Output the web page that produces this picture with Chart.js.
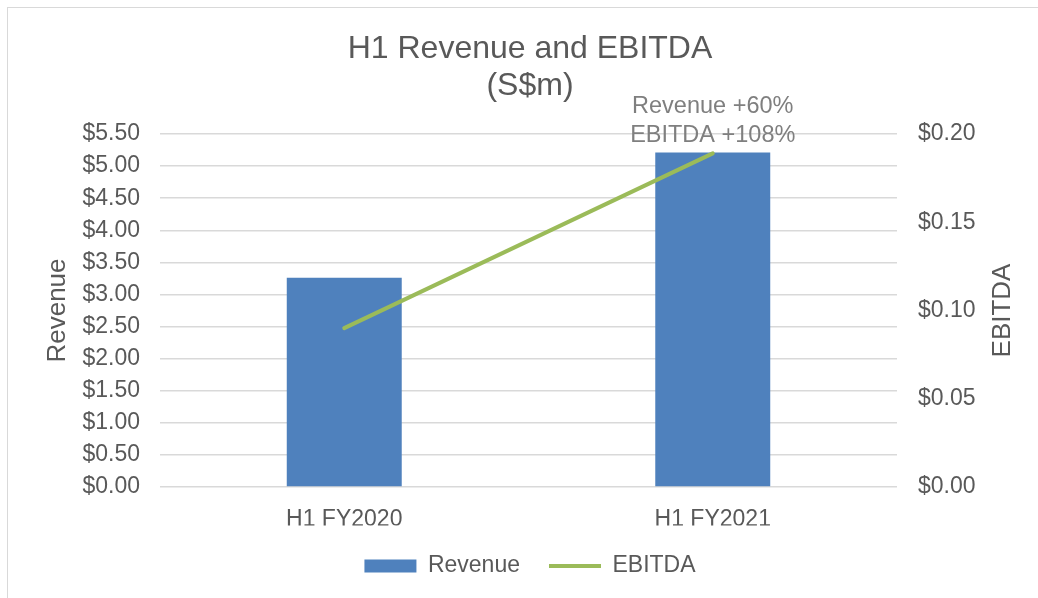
<!DOCTYPE html>
<html>
<head>
<meta charset="utf-8">
<script src="https://cdn.jsdelivr.net/npm/chart.js@4.4.1/dist/chart.umd.min.js"></script>
<style>
  html, body { margin: 0; padding: 0; background: #fff; overflow: hidden; }
  #wrap { position: relative; width: 1038px; height: 598px; overflow: hidden; }
  #frame { position: absolute; left: 7px; top: 7px; width: 1100px; height: 700px; border: 1.5px solid #d9d9d9; box-sizing: border-box; }
  #c { position: absolute; left: 0; top: 0; }
</style>
</head>
<body>
<div id="wrap">
  <div id="frame"></div>
  <!-- the chart frame runs a little past the right edge of the shot, so the canvas does too -->
  <canvas id="c" width="1060" height="598"></canvas>
</div>
<script>
// Values (S$m)
const categories = ["H1 FY2020", "H1 FY2021"];
const revenue = [3.26, 5.21];
const ebitda = [0.09, 0.189];
const growthNotes = ["Revenue +60%", "EBITDA +108%"];
const titleLines = ["H1 Revenue and EBITDA", "(S$m)"];

const FONT = "'Liberation Sans', Arial, sans-serif";
const TEXT = "#595959";
const GRID = "#d9d9d9";
const BLUE = "#4f81bd";
const GREEN = "#9bbb59";

const money = (v) => "$" + Number(v).toFixed(2);

// Growth note sits above the last EBITDA point; right axis title reads bottom-up like Excel.
const extras = {
  id: "extras",
  afterDatasetsDraw(chart) {
    const ctx = chart.ctx;
    const meta = chart.getDatasetMeta(1);
    const pt = meta.data[meta.data.length - 1];
    ctx.save();
    ctx.font = "23.5px " + FONT;
    ctx.fillStyle = "#7f7f7f";
    ctx.textAlign = "center";
    ctx.textBaseline = "middle";
    ctx.fillText(growthNotes[0], pt.x, pt.y - 47);
    ctx.fillText(growthNotes[1], pt.x, pt.y - 18);
    ctx.restore();
  },
  afterDraw(chart) {
    const ctx = chart.ctx;
    const y1 = chart.scales.y1;
    ctx.save();
    ctx.translate(1003, (y1.top + y1.bottom) / 2);
    ctx.rotate(-Math.PI / 2);
    ctx.font = "26px " + FONT;
    ctx.fillStyle = TEXT;
    ctx.textAlign = "center";
    ctx.textBaseline = "middle";
    ctx.fillText("EBITDA", 0, 0);
    ctx.restore();
  },
};

new Chart(document.getElementById("c"), {
  data: {
    labels: categories,
    datasets: [
      {
        type: "bar",
        label: "Revenue",
        data: revenue,
        yAxisID: "y",
        backgroundColor: BLUE,
        borderWidth: 0,
        categoryPercentage: 1,
        barPercentage: 0.312,
        order: 1,
      },
      {
        type: "line",
        label: "EBITDA",
        data: ebitda,
        yAxisID: "y1",
        borderColor: GREEN,
        borderWidth: 4,
        borderCapStyle: "round",
        tension: 0,
        pointRadius: 0,
        order: 0,
      },
    ],
  },
  options: {
    responsive: false,
    animation: false,
    layout: { padding: { left: 0, right: 0, top: 0, bottom: 10.5 } },
    scales: {
      x: {
        grid: { display: false },
        border: { display: false },
        ticks: { color: TEXT, font: { family: FONT, size: 23 }, padding: 11 },
        afterFit: (s) => { s.height = 38.5; },
      },
      y: {
        position: "left",
        min: 0,
        max: 5.5,
        grid: { color: GRID, lineWidth: 1.5, drawTicks: false },
        border: { display: false },
        ticks: { stepSize: 0.5, color: TEXT, font: { family: FONT, size: 23 }, padding: 20, callback: money },
        title: { display: true, text: "Revenue", color: TEXT, font: { family: FONT, size: 26 }, padding: { top: 42, bottom: 0 } },
        afterFit: (s) => { s.width = 160; },
      },
      y1: {
        position: "right",
        min: 0,
        max: 0.2,
        grid: { display: false, drawTicks: false },
        border: { display: false },
        ticks: { stepSize: 0.05, color: TEXT, font: { family: FONT, size: 23 }, padding: 21, callback: money },
        afterFit: (s) => { s.width = 163; },
      },
    },
    plugins: {
      title: {
        display: true,
        text: titleLines,
        color: TEXT,
        font: { family: FONT, size: 32, weight: "normal", lineHeight: 1.15 },
        padding: { top: 31, bottom: 29.4 },
      },
      legend: {
        position: "bottom",
        labels: {
          color: TEXT,
          font: { family: FONT, size: 23 },
          usePointStyle: true,
          pointStyleWidth: 52,
          boxHeight: 13,
          padding: 29,
          generateLabels: () => [
            { text: "Revenue", pointStyle: "rect", fillStyle: BLUE, strokeStyle: BLUE, lineWidth: 0, fontColor: TEXT, datasetIndex: 0 },
            { text: "EBITDA", pointStyle: "line", fillStyle: GREEN, strokeStyle: GREEN, lineWidth: 4, fontColor: TEXT, datasetIndex: 1 },
          ],
        },
      },
      tooltip: { enabled: false },
    },
  },
  plugins: [extras],
});
</script>
</body>
</html>
